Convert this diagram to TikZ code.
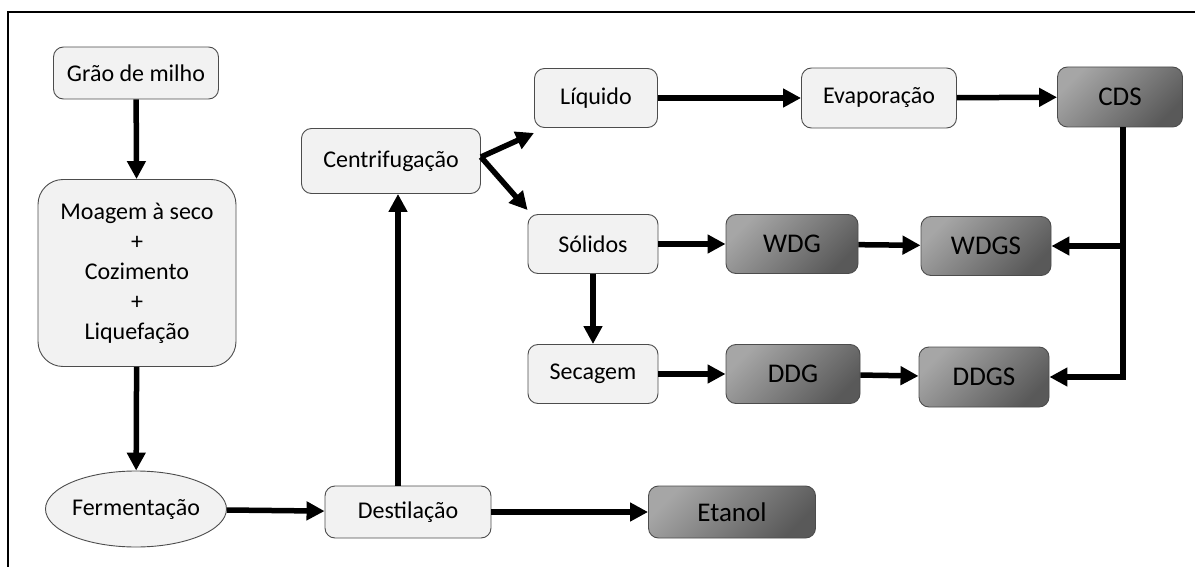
\documentclass[tikz,border=0pt]{standalone}
\usepackage{fontspec}
\setmainfont{Carlito}
\usetikzlibrary{arrows.meta,shapes.geometric,calc}

\begin{document}
\begin{tikzpicture}[x=1pt,y=-1pt,
  lightbox/.style={draw=black!70, line width=0.9pt, fill=black!5, rounded corners=10pt,
    inner sep=0pt, align=center, font=\fontsize{24}{30}\selectfont},
  darkbox/.style={draw=black!70, line width=0.9pt, rounded corners=10pt,
    top color=black!35, bottom color=black!65, shading angle=45,
    inner sep=0pt, align=center, font=\fontsize{27}{32}\selectfont},
  flow/.style={line width=5.5pt, -{Triangle[length=18pt,width=18pt]}}]
\useasboundingbox (0,0) rectangle (1195,567);

% frame
\draw[line width=2pt] (8,567) -- (8,12) -- (1195,12);

% main line
\node[lightbox, minimum width=165pt, minimum height=52pt] (grao) at (136,73) {Grão de milho};
\node[lightbox, minimum width=198pt, minimum height=187pt, rounded corners=25pt] (moagem) at (137,273)
  {Moagem à seco\\+\\Cozimento\\+\\Liquefação};
\node[lightbox, ellipse, minimum width=181pt, minimum height=76pt] (ferm) at (136,509) {Fermentação};
\node[lightbox, minimum width=166pt, minimum height=52pt] (dest) at (408,512) {Destilação};
\node[darkbox, minimum width=167pt, minimum height=52pt] (etanol) at (732,512) {Etanol};

% centrifuge branch
\node[lightbox, minimum width=179pt, minimum height=65pt] (centr) at (391,161) {Centrifugação};
\node[lightbox, minimum width=123pt, minimum height=59pt] (liq) at (596,98) {Líquido};
\node[lightbox, minimum width=155pt, minimum height=60pt] (evap) at (879,98) {Evaporação};
\node[darkbox, minimum width=125pt, minimum height=60pt] (cds) at (1120,97) {CDS};
\node[lightbox, minimum width=130pt, minimum height=59pt] (sol) at (593,244) {Sólidos};
\node[darkbox, minimum width=132pt, minimum height=59pt] (wdg) at (792,244) {WDG};
\node[darkbox, minimum width=130pt, minimum height=59pt] (wdgs) at (986,246) {WDGS};
\node[lightbox, minimum width=130pt, minimum height=59pt] (sec) at (593,374) {Secagem};
\node[darkbox, minimum width=134pt, minimum height=59pt] (ddg) at (793,374) {DDG};
\node[darkbox, minimum width=130pt, minimum height=60pt] (ddgs) at (984,377) {DDGS};

% connectors
\draw[flow] (grao) -- (moagem);
\draw[flow] (moagem) -- (ferm);
\draw[flow] (ferm) -- (dest);
\draw[flow] (dest) -- (etanol);
\draw[flow] ([xshift=-10pt]dest.north) -- ([xshift=-10pt]dest.north |- centr.south);
\draw[flow] ([yshift=4pt]centr.east) -- ([yshift=-5pt]liq.south west);
\draw[flow] ([yshift=4pt]centr.east) -- ([yshift=4pt]sol.north west);
\draw[flow] (liq) -- (evap);
\draw[flow] (evap) -- (cds);
\draw[flow] (sol) -- (wdg);
\draw[flow] (wdg) -- (wdgs);
\draw[flow] (sol) -- (sec);
\draw[flow] (sec) -- (ddg);
\draw[flow] (ddg) -- (ddgs);
\draw[flow] ([xshift=3pt]cds.south) |- (ddgs.east);
\draw[flow] ([xshift=3pt]cds.south |- wdgs.east) -- (wdgs.east);
\end{tikzpicture}
\end{document}
